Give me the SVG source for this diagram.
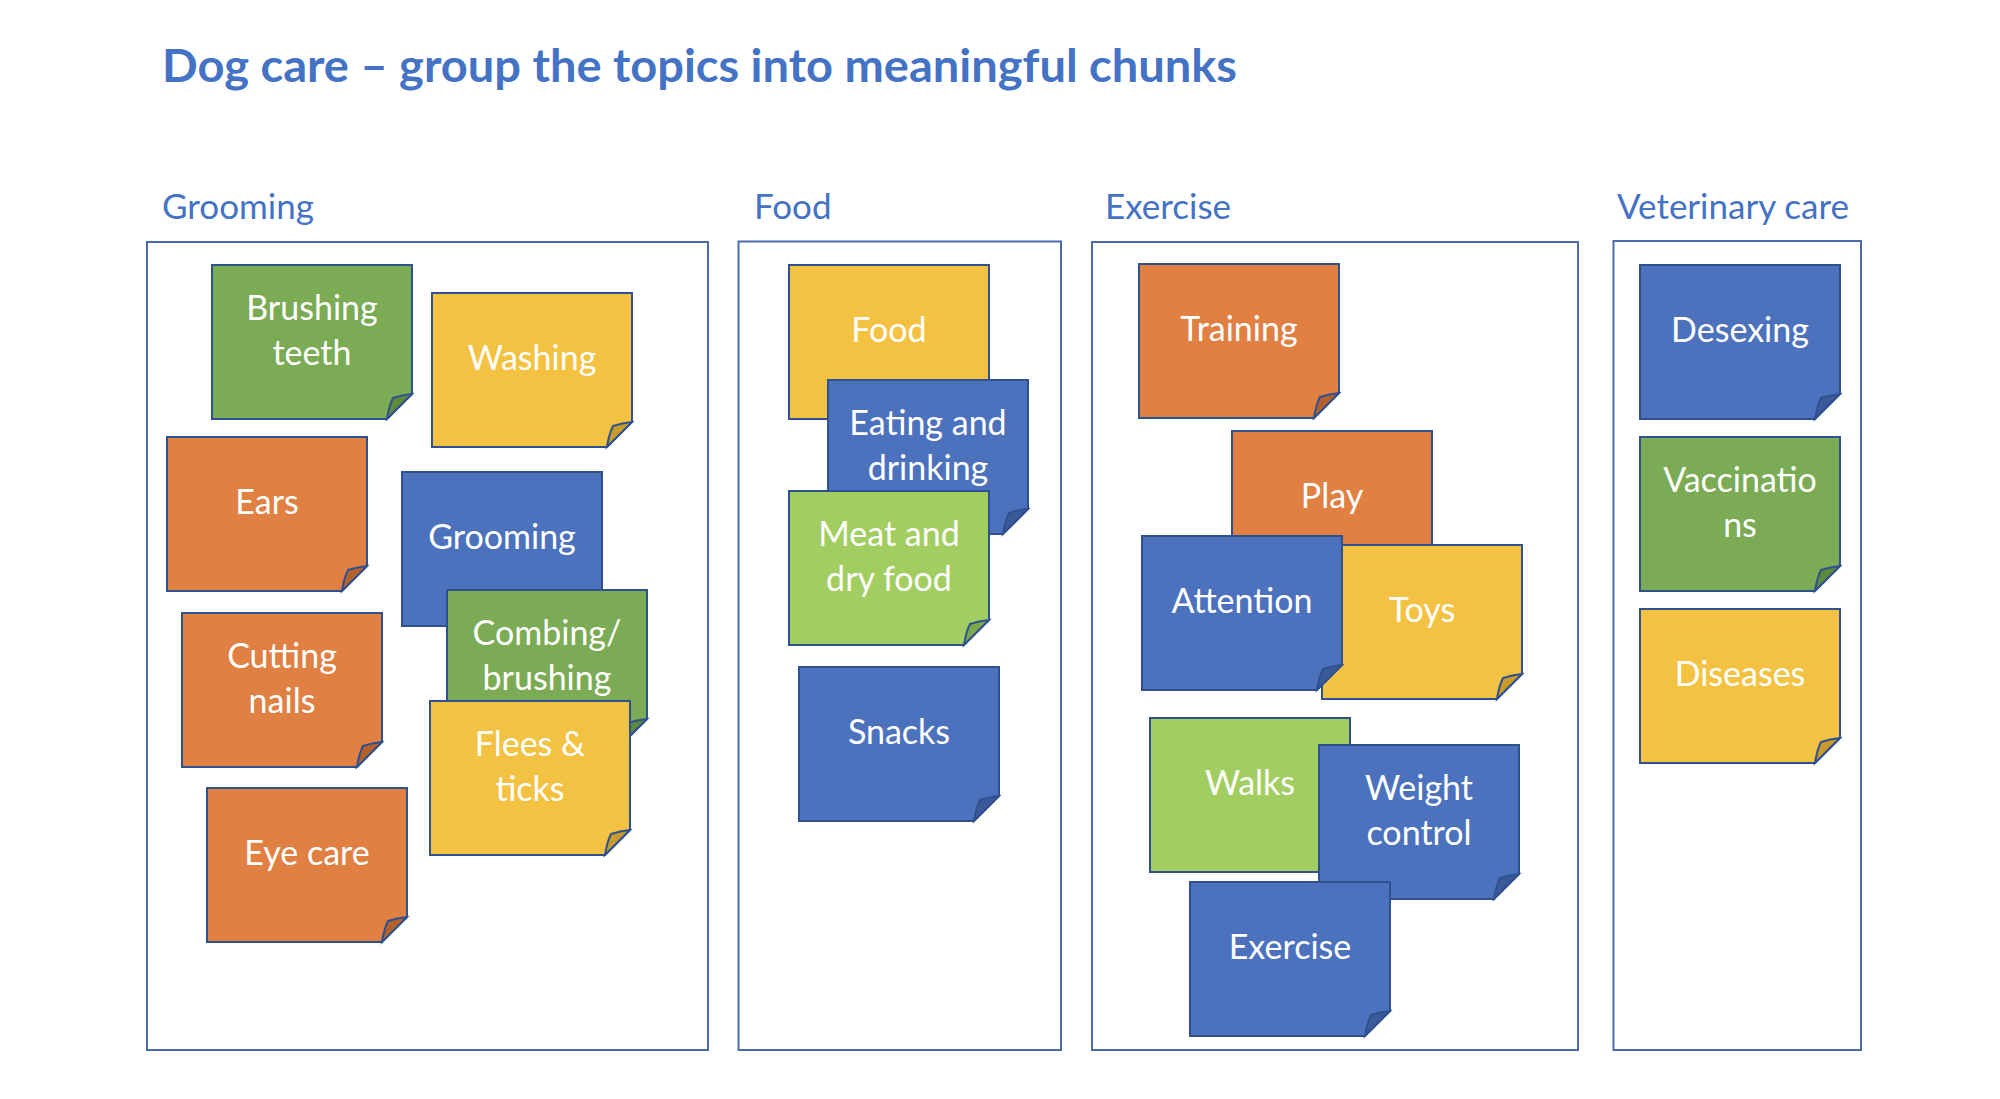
<svg xmlns="http://www.w3.org/2000/svg" xmlns:xlink="http://www.w3.org/1999/xlink" width="2000" height="1099" viewBox="0 0 2000 1099">
<style>
.title{font-family:Lato,"Open Sans","Liberation Sans",sans-serif;font-weight:bold;font-size:45px;fill:#4472C4}
.sec{font-family:Lato,"Open Sans","Liberation Sans",sans-serif;font-size:35px;fill:#4472C4}
.panel{fill:#FFFFFF;stroke:#4A6CAF;stroke-width:2}
.lbl{font-family:Lato,"Open Sans","Liberation Sans",sans-serif;font-size:34px;fill:#FFFFFF;text-anchor:middle}
.edge{stroke:#2F528F;stroke-width:2;stroke-linejoin:miter}
.green{fill:#7BAB54}.green-f{fill:#5E8A3D}
.lgreen{fill:#A1CD61}.lgreen-f{fill:#7FA848}
.yellow{fill:#F4C243}.yellow-f{fill:#C99A2C}
.orange{fill:#E08043}.orange-f{fill:#B5612B}
.blue{fill:#4C72BD}.blue-f{fill:#3A5A99}
</style>
<defs>
<path id="body" d="M0,0 H200 V129 L175,154 H0 Z"/>
<path id="fold" d="M175,154 Q177,141 181,133 Q190,130 200,129 Z"/>
</defs>
<rect width="2000" height="1099" fill="#FFFFFF"/>
<text class="title" x="162" y="82" textLength="1075" lengthAdjust="spacingAndGlyphs">Dog care – group the topics into meaningful chunks</text>
<g id="panel-grooming">
<text class="sec" x="162" y="219">Grooming</text>
<rect class="panel" x="147" y="242" width="561" height="808"/>
</g>
<g id="panel-food">
<text class="sec" x="754" y="219">Food</text>
<rect class="panel" x="738.5" y="241.5" width="322.5" height="808.5"/>
</g>
<g id="panel-exercise">
<text class="sec" x="1105" y="219">Exercise</text>
<rect class="panel" x="1092" y="242" width="486" height="808"/>
</g>
<g id="panel-vet">
<text class="sec" x="1617" y="219">Veterinary care</text>
<rect class="panel" x="1613.5" y="241" width="247.5" height="809"/>
</g>
<g id="connectors"/>
<g id="n-brushing-teeth" transform="translate(212,265)"><use xlink:href="#body" class="green edge"/><use xlink:href="#fold" class="green-f edge"/><text class="lbl" x="100" y="55">Brushing</text><text class="lbl" x="100" y="100">teeth</text></g>
<g id="n-washing" transform="translate(432,293)"><use xlink:href="#body" class="yellow edge"/><use xlink:href="#fold" class="yellow-f edge"/><text class="lbl" x="100" y="77">Washing</text></g>
<g id="n-ears" transform="translate(167,437)"><use xlink:href="#body" class="orange edge"/><use xlink:href="#fold" class="orange-f edge"/><text class="lbl" x="100" y="77">Ears</text></g>
<g id="n-grooming" transform="translate(402,472)"><use xlink:href="#body" class="blue edge"/><use xlink:href="#fold" class="blue-f edge"/><text class="lbl" x="100" y="77">Grooming</text></g>
<g id="n-combing" transform="translate(447,590)"><use xlink:href="#body" class="green edge"/><use xlink:href="#fold" class="green-f edge"/><text class="lbl" x="100" y="55">Combing/</text><text class="lbl" x="100" y="100">brushing</text></g>
<g id="n-cutting-nails" transform="translate(182,613)"><use xlink:href="#body" class="orange edge"/><use xlink:href="#fold" class="orange-f edge"/><text class="lbl" x="100" y="55">Cutting</text><text class="lbl" x="100" y="100">nails</text></g>
<g id="n-flees" transform="translate(430,701)"><use xlink:href="#body" class="yellow edge"/><use xlink:href="#fold" class="yellow-f edge"/><text class="lbl" x="100" y="55">Flees &amp;</text><text class="lbl" x="100" y="100">ticks</text></g>
<g id="n-eye-care" transform="translate(207,788)"><use xlink:href="#body" class="orange edge"/><use xlink:href="#fold" class="orange-f edge"/><text class="lbl" x="100" y="77">Eye care</text></g>
<g id="n-food" transform="translate(789,265)"><use xlink:href="#body" class="yellow edge"/><use xlink:href="#fold" class="yellow-f edge"/><text class="lbl" x="100" y="77">Food</text></g>
<g id="n-eating" transform="translate(828,380)"><use xlink:href="#body" class="blue edge"/><use xlink:href="#fold" class="blue-f edge"/><text class="lbl" x="100" y="55">Eating and</text><text class="lbl" x="100" y="100">drinking</text></g>
<g id="n-meat" transform="translate(789,491)"><use xlink:href="#body" class="lgreen edge"/><use xlink:href="#fold" class="lgreen-f edge"/><text class="lbl" x="100" y="55">Meat and</text><text class="lbl" x="100" y="100">dry food</text></g>
<g id="n-snacks" transform="translate(799,667)"><use xlink:href="#body" class="blue edge"/><use xlink:href="#fold" class="blue-f edge"/><text class="lbl" x="100" y="77">Snacks</text></g>
<g id="n-training" transform="translate(1139,264)"><use xlink:href="#body" class="orange edge"/><use xlink:href="#fold" class="orange-f edge"/><text class="lbl" x="100" y="77">Training</text></g>
<g id="n-play" transform="translate(1232,431)"><use xlink:href="#body" class="orange edge"/><use xlink:href="#fold" class="orange-f edge"/><text class="lbl" x="100" y="77">Play</text></g>
<g id="n-toys" transform="translate(1322,545)"><use xlink:href="#body" class="yellow edge"/><use xlink:href="#fold" class="yellow-f edge"/><text class="lbl" x="100" y="77">Toys</text></g>
<g id="n-attention" transform="translate(1142,536)"><use xlink:href="#body" class="blue edge"/><use xlink:href="#fold" class="blue-f edge"/><text class="lbl" x="100" y="77">Attention</text></g>
<g id="n-walks" transform="translate(1150,718)"><use xlink:href="#body" class="lgreen edge"/><use xlink:href="#fold" class="lgreen-f edge"/><text class="lbl" x="100" y="77">Walks</text></g>
<g id="n-weight" transform="translate(1319,745)"><use xlink:href="#body" class="blue edge"/><use xlink:href="#fold" class="blue-f edge"/><text class="lbl" x="100" y="55">Weight</text><text class="lbl" x="100" y="100">control</text></g>
<g id="n-exercise" transform="translate(1190,882)"><use xlink:href="#body" class="blue edge"/><use xlink:href="#fold" class="blue-f edge"/><text class="lbl" x="100" y="77">Exercise</text></g>
<g id="n-desexing" transform="translate(1640,265)"><use xlink:href="#body" class="blue edge"/><use xlink:href="#fold" class="blue-f edge"/><text class="lbl" x="100" y="77">Desexing</text></g>
<g id="n-vaccinations" transform="translate(1640,437)"><use xlink:href="#body" class="green edge"/><use xlink:href="#fold" class="green-f edge"/><text class="lbl" x="100" y="55">Vaccinatio</text><text class="lbl" x="100" y="100">ns</text></g>
<g id="n-diseases" transform="translate(1640,609)"><use xlink:href="#body" class="yellow edge"/><use xlink:href="#fold" class="yellow-f edge"/><text class="lbl" x="100" y="77">Diseases</text></g>
</svg>
